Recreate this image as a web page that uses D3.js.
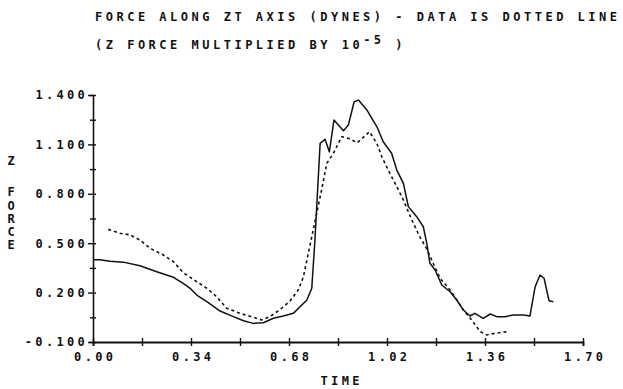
<!DOCTYPE html>
<html>
<head>
<meta charset="utf-8">
<script src="https://cdn.jsdelivr.net/npm/d3@7"></script>
<style>
  body { margin: 0; background: #fff; }
  svg text { font-family: 'DejaVu Sans Mono', monospace; font-size: 12px; fill: #111; font-weight: bold; }
</style>
</head>
<body>
<div id="chart"></div>
<script>
// model curve (solid line)
const modelTime = [0, 0.024, 0.059, 0.105, 0.163, 0.221, 0.279, 0.313, 0.337, 0.36, 0.395, 0.441, 0.487, 0.522, 0.556, 0.591,
  0.626, 0.66, 0.695, 0.742, 0.759, 0.770, 0.788, 0.805, 0.820, 0.836, 0.869, 0.886, 0.906, 0.921, 0.950, 0.985, 1.007,
  1.036, 1.054, 1.077, 1.094, 1.123, 1.146, 1.158, 1.169, 1.187, 1.210, 1.239, 1.262, 1.285, 1.308, 1.325, 1.354, 1.378,
  1.401, 1.430, 1.458, 1.493, 1.516, 1.534, 1.551, 1.565, 1.582, 1.597];
const modelForce = [0.40, 0.40, 0.39, 0.385, 0.363, 0.327, 0.293, 0.256, 0.226, 0.185, 0.145, 0.088, 0.054, 0.029, 0.013, 0.017,
  0.044, 0.058, 0.074, 0.155, 0.226, 0.519, 1.106, 1.131, 1.055, 1.248, 1.183, 1.218, 1.359, 1.369, 1.309, 1.207, 1.116,
  1.046, 0.944, 0.863, 0.722, 0.661, 0.600, 0.499, 0.378, 0.337, 0.246, 0.205, 0.155, 0.094, 0.058, 0.074, 0.044, 0.07,
  0.054, 0.054, 0.064, 0.064, 0.058, 0.236, 0.307, 0.287, 0.151, 0.145];

// measured data (dotted line)
const dataTime = [0.053, 0.094, 0.128, 0.163, 0.198, 0.244, 0.279, 0.313, 0.360, 0.395, 0.429, 0.464, 0.510, 0.556, 0.585,
  0.614, 0.649, 0.684, 0.712, 0.730, 0.747, 0.764, 0.776, 0.793, 0.811, 0.834, 0.863, 0.886, 0.917, 0.959, 0.985, 1.002,
  1.030, 1.054, 1.077, 1.106, 1.135, 1.158, 1.175, 1.204, 1.239, 1.262, 1.285, 1.314, 1.343, 1.366, 1.395, 1.438];
const dataForce = [0.584, 0.56, 0.551, 0.519, 0.469, 0.428, 0.388, 0.321, 0.266, 0.226, 0.175, 0.105, 0.074, 0.05, 0.034,
  0.054, 0.097, 0.15, 0.216, 0.296, 0.439, 0.58, 0.681, 0.823, 0.985, 1.046, 1.147, 1.137, 1.110, 1.177, 1.106, 1.025,
  0.924, 0.843, 0.762, 0.641, 0.535, 0.465, 0.398, 0.287, 0.216, 0.155, 0.094, 0.034, -0.037, -0.057, -0.047, -0.037];

const xTicks = [0, 0.17, 0.34, 0.51, 0.68, 0.85, 1.02, 1.19, 1.36, 1.53, 1.70];
const xLabels = [0, 0.34, 0.68, 1.02, 1.36, 1.70];
const yTicks = [-0.1, 0.05, 0.2, 0.35, 0.5, 0.65, 0.8, 0.95, 1.1, 1.25, 1.4];
const yLabels = [-0.1, 0.2, 0.5, 0.8, 1.1, 1.4];

const titleLine1 = 'FORCE ALONG ZT AXIS (DYNES) - DATA IS DOTTED LINE';
const yTitle = ['Z', '', 'F', 'O', 'R', 'C', 'E'];

const svg = d3.select('#chart').append('svg')
  .attr('width', 623)
  .attr('height', 389);

const x = d3.scaleLinear().domain([0, 1.7]).range([93, 583]);
const y = d3.scaleLinear().domain([-0.1, 1.4]).range([342, 95]);

const ls = 3.3;
const isLabel = (list, v) => list.some(l => Math.abs(l - v) < 1e-6);
const fmt = (f) => v => f(v).replace('\u2212', '-');

// title
svg.append('text')
  .attr('x', 95).attr('y', 21)
  .style('letter-spacing', '3.5px')
  .text(titleLine1);
const t2 = svg.append('text')
  .attr('x', 95).attr('y', 49)
  .style('letter-spacing', '3.5px');
t2.append('tspan').text('(Z FORCE MULTIPLIED BY 10');
t2.append('tspan').attr('dy', -5).text('-5');
t2.append('tspan').attr('dy', 5).text(' )');

// y axis
const yAxis = svg.append('g')
  .attr('transform', 'translate(93,0)')
  .call(d3.axisLeft(y).tickValues(yTicks).tickSizeOuter(0).tickSize(4)
    .tickFormat(d => isLabel(yLabels, d) ? fmt(d3.format('.3f'))(d) : ''));
yAxis.select('.domain').attr('stroke', '#111').attr('stroke-width', 1.6);
yAxis.selectAll('.tick line').attr('x1', d => isLabel(yLabels, d) ? -5 : -3).attr('x2', 3)
  .attr('stroke', '#111').attr('stroke-width', 1.4);
yAxis.selectAll('.tick text').attr('x', -5).style('letter-spacing', ls + 'px')
  .style('font-family', "'DejaVu Sans Mono', monospace").style('font-size', '12px');

// x axis
const xAxis = svg.append('g')
  .attr('transform', 'translate(0,342)')
  .call(d3.axisBottom(x).tickValues(xTicks).tickSizeOuter(0).tickSize(4)
    .tickFormat(d => isLabel(xLabels, d) ? fmt(d3.format('.2f'))(d) : ''));
xAxis.select('.domain').attr('stroke', '#111').attr('stroke-width', 1.8);
xAxis.selectAll('.tick line').attr('y1', -4).attr('y2', 4)
  .attr('stroke', '#111').attr('stroke-width', 1.4);
xAxis.selectAll('.tick text').attr('y', 10).attr('dx', ls / 2).style('letter-spacing', ls + 'px')
  .style('font-family', "'DejaVu Sans Mono', monospace").style('font-size', '12px');

// axis titles
svg.append('text')
  .attr('x', 340 + ls / 2).attr('y', 385)
  .attr('text-anchor', 'middle')
  .style('letter-spacing', ls + 'px')
  .text('TIME');

svg.append('g').selectAll('text')
  .data(yTitle)
  .enter()
  .append('text')
  .attr('x', 11)
  .attr('y', (d, i) => i === 0 ? 165 : 170 + i * 13.2)
  .attr('text-anchor', 'middle')
  .text(d => d);

// curves
const line = d3.line()
  .x(d => x(d[0]))
  .y(d => y(d[1]));

svg.append('path')
  .attr('class', 'model')
  .attr('d', line(d3.zip(modelTime, modelForce)))
  .attr('fill', 'none')
  .attr('stroke', '#111')
  .attr('stroke-width', 1.5)
  .attr('stroke-linejoin', 'round');

svg.append('path')
  .attr('class', 'data')
  .attr('d', line(d3.zip(dataTime, dataForce)))
  .attr('fill', 'none')
  .attr('stroke', '#111')
  .attr('stroke-width', 1.6)
  .attr('stroke-dasharray', '3,3');
</script>
</body>
</html>
